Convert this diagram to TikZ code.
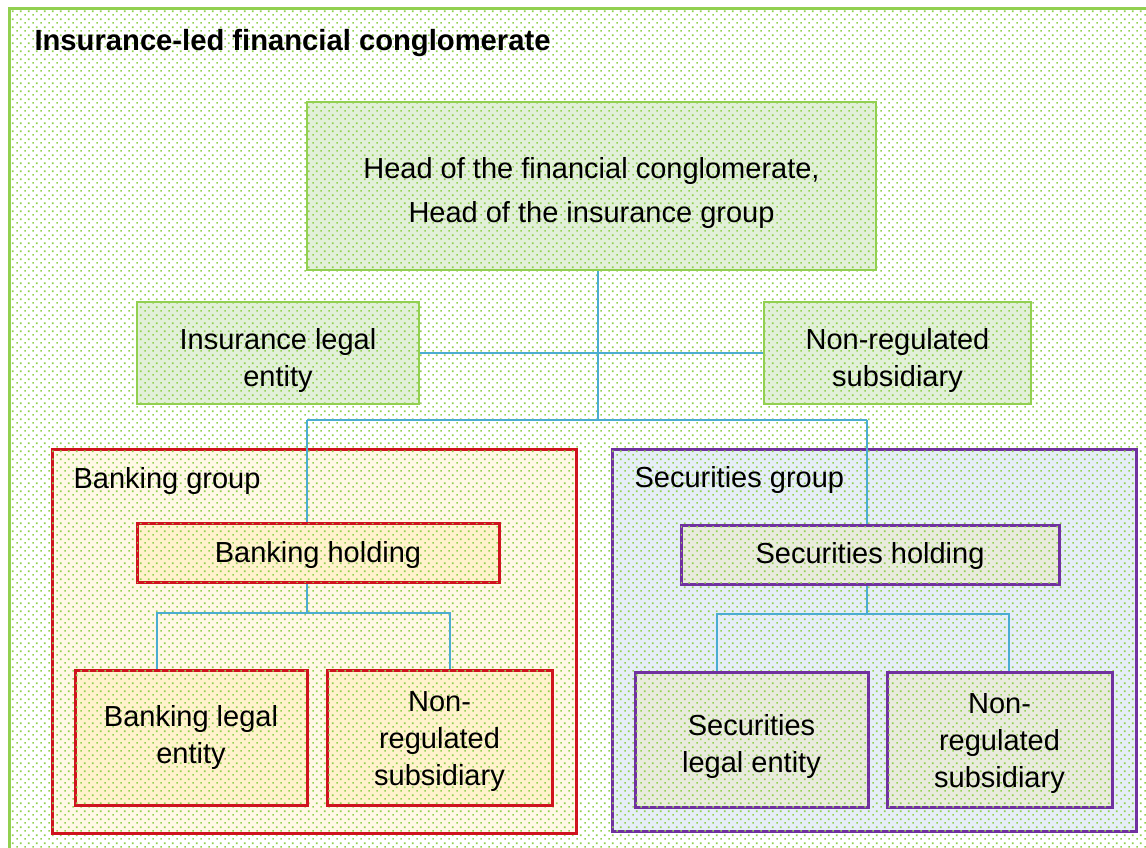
\documentclass[tikz,border=0pt]{standalone}
\usepackage{fontspec}
\setmainfont{Liberation Sans}
\usetikzlibrary{patterns.meta}
\definecolor{dotgreen}{RGB}{146,208,80}
\definecolor{linkblue}{RGB}{75,172,210}
\definecolor{bankred}{RGB}{208,18,30}
\definecolor{secpurple}{RGB}{112,48,160}
\definecolor{headfill}{RGB}{226,240,217}
\definecolor{bankgrpfill}{RGB}{255,248,230}
\definecolor{bankfill}{RGB}{255,242,204}
\definecolor{secgrpfill}{RGB}{230,238,247}
\definecolor{secfill}{RGB}{233,235,221}
\tikzdeclarepattern{
  name=greendots,
  type=uncolored,
  bottom left={(0pt,0pt)}, top right={(8pt,8pt)},
  tile size={(8pt,8pt)},
  code={\fill (0.4pt,0.4pt) rectangle (2.2pt,2.2pt); \fill (4.4pt,4.4pt) rectangle (6.2pt,6.2pt);}
}
\begin{document}
\begin{tikzpicture}[x=1pt,y=-1pt,
    dotted fill/.style={fill=#1,postaction={pattern=greendots,pattern color=dotgreen}},
    box/.style={draw,line width=2.5pt,inner sep=0pt},
    boxtext/.style={align=center,inner sep=0pt,font=\fontsize{29}{37}\selectfont},
    insbox/.style={box,draw=dotgreen,dotted fill=headfill},
    bankbox/.style={box,line width=3pt,draw=bankred,dotted fill=bankfill},
    secbox/.style={box,line width=3pt,draw=secpurple,dotted fill=secfill},
    link/.style={draw=linkblue,line width=1.8pt}]
		\useasboundingbox (0,0) rectangle (1146,848);
		% whole conglomerate
		\fill[white] (0,0) rectangle (1146,848);
		\path[dotted fill=white,draw=dotgreen,line width=3pt] (9,9) rectangle (1152,854);
		\node[anchor=west,font=\fontsize{29.2}{34}\selectfont\bfseries] (title) at (31,43) {Insurance-led financial conglomerate};
		% insurance level
		\node[insbox,minimum width=569,minimum height=168] (head) at (591.5,186) {};
		\node[boxtext,font=\fontsize{29}{44}\selectfont] (headtext) at ([yshift=-7pt]head.center)
			{Head of the financial conglomerate,\\Head of the insurance group};
		\node[insbox,minimum width=282,minimum height=102] (inslegal) at (278,353) {};
		\node[boxtext] (inslegaltext) at ([yshift=-7pt]inslegal.center) {Insurance legal\\entity};
		\node[insbox,minimum width=267,minimum height=102] (insnonreg) at (897.5,353) {};
		\node[boxtext] (insnonregtext) at ([yshift=-7pt]insnonreg.center) {Non-regulated\\subsidiary};
		% groups
		\node[draw=bankred,line width=3pt,dotted fill=bankgrpfill,minimum width=524,minimum height=384,inner sep=0] (bankgrp) at (314,641) {};
		\node[anchor=west,font=\fontsize{29}{34}\selectfont] (bankgrplabel) at (70,481) {Banking group};
		\node[draw=secpurple,line width=3pt,dotted fill=secgrpfill,minimum width=524,minimum height=382,inner sep=0] (secgrp) at (874,640) {};
		\node[anchor=west,font=\fontsize{29}{34}\selectfont] (secgrplabel) at (631,480) {Securities group};
		% connectors
		\coordinate (hub) at (598,420);
		\coordinate (bl) at (307,420);
		\coordinate (br) at (867,420);
		\coordinate (bjl) at (157,613);
		\coordinate (bjr) at (450,613);
		\coordinate (bj) at (307,613);
		\coordinate (sjl) at (717,614);
		\coordinate (sjr) at (1009,614);
		\coordinate (sj) at (867,614);
		\draw[link] (head.south -| hub) -- (hub);
		\draw[link] (inslegal.east) -- (insnonreg.west);
		\draw[link] (bl) -- (br);
		% banking group
		\node[bankbox,minimum width=362,minimum height=59] (bankhold) at (318,552.5) {};
		\node[boxtext] (bankholdtext) at ([yshift=-2pt]bankhold.center) {Banking holding};
		\node[bankbox,minimum width=232,minimum height=135] (banklegal) at (191,737.5) {};
		\node[boxtext] (banklegaltext) at (banklegal.center) {Banking legal\\entity};
		\node[bankbox,minimum width=225,minimum height=135] (banknonreg) at (439.5,737.5) {};
		\node[boxtext] (banknonregtext) at ([yshift=-4pt]banknonreg.center) {Non-\\regulated\\subsidiary};
		% securities group
		\node[secbox,minimum width=378,minimum height=59] (sechold) at (870,554.5) {};
		\node[boxtext] (secholdtext) at ([yshift=-1pt]sechold.center) {Securities holding};
		\node[secbox,minimum width=233,minimum height=135] (seclegal) at (751.5,739.5) {};
		\node[boxtext] (seclegaltext) at ([yshift=-7pt]seclegal.center) {Securities\\legal entity};
		\node[secbox,minimum width=225,minimum height=135] (secnonreg) at (999.5,739.5) {};
		\node[boxtext] (secnonregtext) at ([yshift=-4pt]secnonreg.center) {Non-\\regulated\\subsidiary};
		% connectors inside the groups
		\draw[link] (bankhold.north -| bl) -- (bl);
		\draw[link] (sechold.north -| br) -- (br);
		\draw[link] (bankhold.south -| bj) -- (bj);
		\draw[link] (banklegal.north -| bjl) -- (bjl) -- (bjr) -- (banknonreg.north -| bjr);
		\draw[link] (sechold.south -| sj) -- (sj);
		\draw[link] (seclegal.north -| sjl) -- (sjl) -- (sjr) -- (secnonreg.north -| sjr);
	\end{tikzpicture}
\end{document}
